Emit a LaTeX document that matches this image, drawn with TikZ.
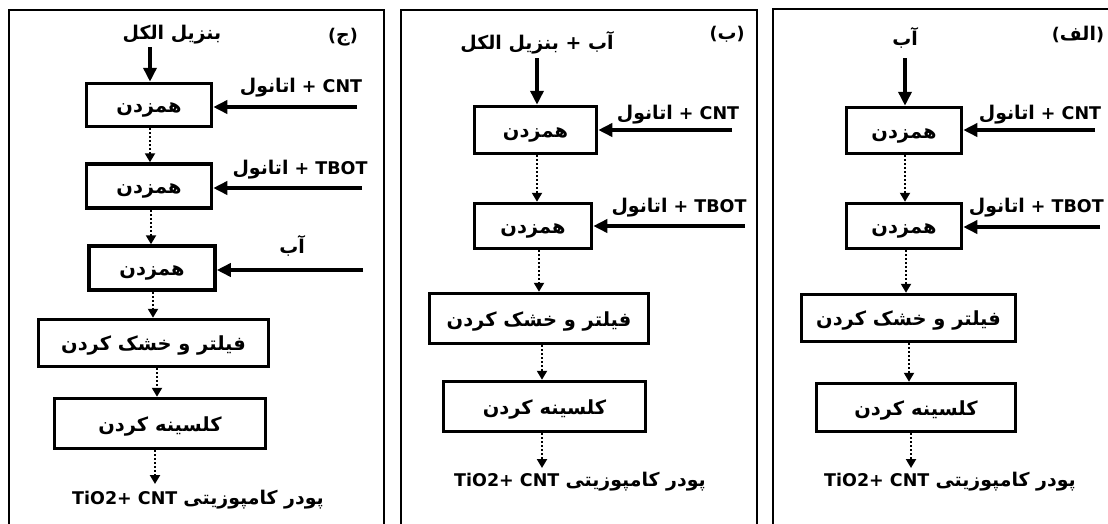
\documentclass[tikz,border=0pt]{standalone}
\usepackage{fontspec}
\setmainfont{DejaVu Sans}
\newfontfamily\fa[Script=Arabic,Scale=1.08]{DejaVu Sans}
\TeXXeTstate=1
\usetikzlibrary{arrows.meta}
\tikzset{
  pbox/.style={draw, line width=3.5pt, inner sep=0pt, text height=15pt, text depth=0pt, font=\fa\bfseries\fontsize{18}{18}\selectfont},
  lbl/.style={inner sep=0pt, font=\bfseries\fontsize{17.5}{18}\selectfont},
  feed/.style={line width=4pt, -{Triangle[length=14pt,width=13pt]}},
  flow/.style={line width=2pt, dash pattern=on 2pt off 2pt, -{Triangle[length=9pt,width=10pt]}},
  frame/.style={draw, line width=2.5pt}
}
\begin{document}
\begin{tikzpicture}[x=1pt,y=-1pt]
\useasboundingbox (0,0) rectangle (1108,523);
\fill[white] (0,0) rectangle (1108,523);
\clip (0,0) rectangle (1108,523);
% frames
\draw[frame] (9,540) -- (9,10) -- (384,10) -- (384,540);
\draw[frame] (401,540) -- (401,10) -- (757,10) -- (757,540);
\draw[frame] (773,540) -- (773,9) -- (1120,9);

% ---------------- panel (ج)
\node[lbl] (ctitle) at (343,37) {({\fa\beginR ج\endR})};
\node[lbl] (ctop) at (172,35) {\fa\beginR بنزیل الکل\endR};
\node[pbox, minimum width=125pt, minimum height=43pt] (c1) at (149,105) {\beginR همزدن\endR};
\node[pbox, minimum width=125pt, minimum height=44pt] (c2) at (149,186) {\beginR همزدن\endR};
\node[pbox, minimum width=126pt, minimum height=44pt] (c3) at (152,268) {\beginR همزدن\endR};
\node[pbox, minimum width=230pt, minimum height=47pt] (c4) at (153.5,343) {\beginR فیلتر و خشک کردن\endR};
\node[pbox, minimum width=211pt, minimum height=50pt] (c5) at (160,423.5) {\beginR کلسینه کردن\endR};
\node[lbl] (ccnt) at (301,88) {{\fa\beginR اتانول\endR} + CNT};
\node[lbl] (ctbot) at (300,170) {{\fa\beginR اتانول\endR} + TBOT};
\node[lbl] (cab) at (292,246) {\fa\beginR آب\endR};
\node[lbl] (cout) at (198,500) {TiO2+ CNT {\fa\beginR پودر کامپوزیتی\endR}};
\coordinate (cA) at (150,47);
\coordinate (cB) at (357,107);
\coordinate (cC) at (362,188);
\coordinate (cD) at (363,270);
\coordinate (cE) at (155,484);
\draw[feed] (cA) -- (cA |- c1.north);
\draw[feed] (cB) -- (cB -| c1.east);
\draw[feed] (cC) -- (cC -| c2.east);
\draw[feed] (cD) -- (cD -| c3.east);
\draw[flow] (150,0 |- c1.south) -- (150,0 |- c2.north);
\draw[flow] (151,0 |- c2.south) -- (151,0 |- c3.north);
\draw[flow] (153,0 |- c3.south) -- (153,0 |- c4.north);
\draw[flow] (157,0 |- c4.south) -- (157,0 |- c5.north);
\draw[flow] (cE |- c5.south) -- (cE);

% ---------------- panel (ب)
\node[lbl] (btitle) at (727,34) {({\fa\beginR ب\endR})};
\node[lbl] (btop) at (537,43) {\fa\beginR آب + بنزیل الکل\endR};
\node[pbox, minimum width=122pt, minimum height=47pt] (b1) at (535.5,130) {\beginR همزدن\endR};
\node[pbox, minimum width=117pt, minimum height=45pt] (b2) at (533,226) {\beginR همزدن\endR};
\node[pbox, minimum width=219pt, minimum height=50pt] (b3) at (539,318.5) {\beginR فیلتر و خشک کردن\endR};
\node[pbox, minimum width=202pt, minimum height=50pt] (b4) at (544.5,406.5) {\beginR کلسینه کردن\endR};
\node[lbl] (bcnt) at (678,115) {{\fa\beginR اتانول\endR} + CNT};
\node[lbl] (btbot) at (679,208) {{\fa\beginR اتانول\endR} + TBOT};
\node[lbl] (bout) at (580,482) {TiO2+ CNT {\fa\beginR پودر کامپوزیتی\endR}};
\coordinate (bA) at (537,58);
\coordinate (bB) at (732,130);
\coordinate (bC) at (745,226);
\coordinate (bE) at (542,468);
\draw[feed] (bA) -- (bA |- b1.north);
\draw[feed] (bB) -- (bB -| b1.east);
\draw[feed] (bC) -- (bC -| b2.east);
\draw[flow] (537,0 |- b1.south) -- (537,0 |- b2.north);
\draw[flow] (539,0 |- b2.south) -- (539,0 |- b3.north);
\draw[flow] (542,0 |- b3.south) -- (542,0 |- b4.north);
\draw[flow] (bE |- b4.south) -- (bE);

% ---------------- panel (الف)
\node[lbl] (atitle) at (1078,34) {({\fa\beginR الف\endR})};
\node[lbl] (atop) at (905,38) {\fa\beginR آب\endR};
\node[pbox, minimum width=115pt, minimum height=46pt] (a1) at (904,130.5) {\beginR همزدن\endR};
\node[pbox, minimum width=115pt, minimum height=45pt] (a2) at (904,226) {\beginR همزدن\endR};
\node[pbox, minimum width=214pt, minimum height=47pt] (a3) at (908.5,318) {\beginR فیلتر و خشک کردن\endR};
\node[pbox, minimum width=199pt, minimum height=48pt] (a4) at (916,407.5) {\beginR کلسینه کردن\endR};
\node[lbl] (acnt) at (1040,115) {{\fa\beginR اتانول\endR} + CNT};
\node[lbl, anchor=east] (atbot) at (1104,208) {{\fa\beginR اتانول\endR} + TBOT};
\node[lbl] (aout) at (950,482) {TiO2+ CNT {\fa\beginR پودر کامپوزیتی\endR}};
\coordinate (aA) at (905,58);
\coordinate (aB) at (1095,130);
\coordinate (aC) at (1100,227);
\coordinate (aE) at (911,468);
\draw[feed] (aA) -- (aA |- a1.north);
\draw[feed] (aB) -- (aB -| a1.east);
\draw[feed] (aC) -- (aC -| a2.east);
\draw[flow] (905,0 |- a1.south) -- (905,0 |- a2.north);
\draw[flow] (906,0 |- a2.south) -- (906,0 |- a3.north);
\draw[flow] (909,0 |- a3.south) -- (909,0 |- a4.north);
\draw[flow] (aE |- a4.south) -- (aE);
\end{tikzpicture}
\end{document}
